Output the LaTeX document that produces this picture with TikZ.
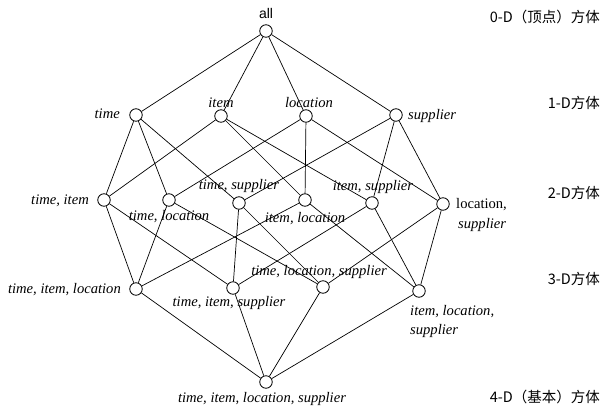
\documentclass[tikz,border=0pt]{standalone}
\usepackage{fontspec}
\setmainfont{Liberation Serif}
\newfontfamily\cjk{Noto Sans CJK SC}
\newfontfamily\arialf{Liberation Sans}
\begin{document}
\begin{tikzpicture}[x=1pt,y=-1pt,
  v/.style={circle,draw,line width=0.8pt,minimum size=12.5pt,inner sep=0pt,fill=white},
  lab/.style={font=\fontsize{14.6}{16}\selectfont\itshape,inner sep=0pt},
  lab2/.style={font=\fontsize{14.6}{16}\selectfont,inner sep=0pt},
  dim/.style={font=\cjk\fontsize{14.5}{16}\selectfont,inner sep=0pt,anchor=east},
  e/.style={line width=0.7pt}]
\useasboundingbox (0,0) rectangle (610,415);
% vertices
\node[v] (A) at (266,31) {};
\node[v] (T) at (136,115) {};
\node[v] (I) at (221,116) {};
\node[v] (L) at (306,116) {};
\node[v] (S) at (396,115) {};
\node[v] (TI) at (104,200) {};
\node[v] (TL) at (169,200) {};
\node[v] (TS) at (239,203) {};
\node[v] (IL) at (305,200) {};
\node[v] (IS) at (372,203) {};
\node[v] (LS) at (443,204) {};
\node[v] (TIL) at (136,289) {};
\node[v] (TIS) at (233,288) {};
\node[v] (TLS) at (323,287) {};
\node[v] (ILS) at (419,291) {};
\node[v] (TILS) at (266,382) {};
% edges
\foreach \a/\b in {A/T,A/I,A/L,A/S,
  T/TI,T/TL,T/TS, I/TI,I/IL,I/IS, L/TL,L/IL,L/LS, S/TS,S/IS,S/LS,
  TI/TIL,TI/TIS, TL/TIL,TL/TLS, TS/TIS,TS/TLS, IL/TIL,IL/ILS, IS/TIS,IS/ILS, LS/TLS,LS/ILS,
  TIL/TILS,TIS/TILS,TLS/TILS,ILS/TILS}
  \draw[e] (\a) -- (\b);
% labels
\node[lab2,font=\arialf\fontsize{14}{16}\selectfont] (lA) at (266,13) {all};
\node[lab,anchor=east] (lT) at (120,114) {time};
\node[lab] (lI) at (221,103) {item};
\node[lab] (lL) at (309,103) {location};
\node[lab,anchor=west] (lS) at (408,116) {supplier};
\node[lab,anchor=east] (lTI) at (89,201) {time, item};
\node[lab] (lTL) at (169,217) {time, location};
\node[lab] (lTS) at (239,186) {time, supplier};
\node[lab] (lIL) at (305,219) {item, location};
\node[lab] (lIS) at (373,187) {item, supplier};
\node[lab2,anchor=west] (lLS1) at (456,205) {location,};
\node[lab,anchor=west] (lLS2) at (458,225) {supplier};
\node[lab,anchor=east] (lTIL) at (121,290) {time, item, location};
\node[lab] (lTIS) at (229,303) {time, item, supplier};
\node[lab] (lTLS) at (319,272) {time, location, supplier};
\node[lab,anchor=west] (lILS1) at (410,312) {item, location,};
\node[lab,anchor=west] (lILS2) at (410,331) {supplier};
\node[lab] (lTILS) at (262,399) {time, item, location, supplier};
% dimension labels
\node[dim] (d0) at (600,17) {0-D（顶点）方体};
\node[dim] (d1) at (600,103) {1-D方体};
\node[dim] (d2) at (600,193) {2-D方体};
\node[dim] (d3) at (600,279) {3-D方体};
\node[dim] (d4) at (600,397) {4-D（基本）方体};
\end{tikzpicture}
\end{document}
